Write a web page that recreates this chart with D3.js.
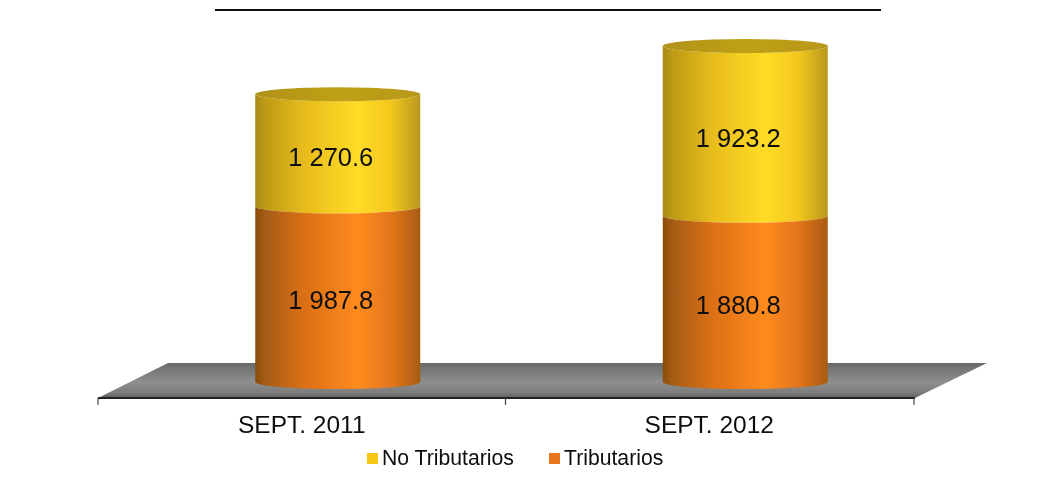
<!DOCTYPE html>
<html><head><meta charset="utf-8">
<script src="https://cdn.jsdelivr.net/npm/d3@7"></script>
<style>html,body{margin:0;padding:0;background:#fff}svg{display:block}text{font-family:"Liberation Sans",Arial,sans-serif;fill:#111}</style>
</head><body><div id="c"></div>
<script>
const categories = ["SEPT. 2011", "SEPT. 2012"];
const seriesNames = ["Tributarios", "No Tributarios"];
const tributarios = [1987.8, 1880.8];
const noTributarios = [1270.6, 1923.2];
const labels = [["1 987.8","1 880.8"],["1 270.6","1 923.2"]];

const W=1061,H=481;
const root=d3.select("#c").append("svg").attr("width",W).attr("height",H);
const defs=root.append("defs");
defs.append("filter").attr("id","soft").attr("x",0).attr("y",0).attr("width",W).attr("height",H).attr("filterUnits","userSpaceOnUse")
  .append("feGaussianBlur").attr("stdDeviation",0.45);
const svg=root.append("g").attr("filter","url(#soft)");
const x=d3.scaleBand().domain(categories).range([98,913]);
const y=d3.scaleLinear().domain([0,3804]).range([382,46]);
const depthX=36, cylW=165, ry=7;
function grad(id,stops){
  const g=defs.append("linearGradient").attr("id",id);
  stops.forEach(s=>g.append("stop").attr("offset",s[0]).attr("stop-color",s[1]));
}
grad("gO",[[0,"#8a4d10"],[.06,"#a55c12"],[.3,"#dc7016"],[.62,"#ff8a1e"],[.82,"#e4761a"],[1,"#a85c10"]]);
grad("gY",[[0,"#a88a14"],[.06,"#bd9a16"],[.3,"#e8bc1c"],[.62,"#ffdc26"],[.82,"#f4c81e"],[1,"#b8981a"]]);
grad("gT",[[0,"#b0921a"],[.5,"#c0a018"],[1,"#b8981a"]]);
const fg=defs.append("linearGradient").attr("id","gF").attr("x1",0).attr("x2",0).attr("y1",0).attr("y2",1);
[[0,"#696969"],[.55,"#8f8f8f"],[.85,"#7c7c7c"],[1,"#5e5e5e"]].forEach(s=>fg.append("stop").attr("offset",s[0]).attr("stop-color",s[1]));

// title rule
svg.append("line").attr("x1",215).attr("x2",881).attr("y1",10).attr("y2",10).attr("stroke","#111").attr("stroke-width",2);
// floor
const axisY=398;
svg.append("path").attr("fill","url(#gF)")
  .attr("d",`M${x.range()[0]},${axisY}L${x.range()[0]+70},363H${x.range()[1]+74}L${x.range()[1]+2},${axisY}Z`);
// axis
const axis=d3.axisBottom(x).tickSize(7).tickFormat(d=>d).tickPadding(10.5);
const ag=svg.append("g").attr("transform",`translate(0,${axisY})`).call(axis);
ag.selectAll(".tick line").remove();
ag.select(".domain").remove();
ag.append("line").attr("x1",x.range()[0]).attr("x2",x.range()[1]+2).attr("stroke","#222").attr("stroke-width",2);
const edges=[...categories.map(c=>x(c)),x.range()[1]+1];
ag.selectAll("line.tk").data(edges).join("line").attr("class","tk").attr("x1",d=>d).attr("x2",d=>d).attr("y1",0).attr("y2",7).attr("stroke","#444").attr("stroke-width",1.2);
ag.selectAll(".tick text").attr("font-size",24.5).attr("fill","#111").style("font-family",'"Liberation Sans",Arial,sans-serif');

// cylinders
categories.forEach((c,i)=>{
  const mid=x(c)+x.bandwidth()/2;
  const cx=mid+depthX, l=cx-cylW/2, r=cx+cylW/2, rx=cylW/2;
  const y0=y(0), y1=y(tributarios[i]), y2=y(tributarios[i]+noTributarios[i]);
  svg.append("path").attr("fill","url(#gY)")
    .attr("d",`M${l},${y1}V${y2}A${rx},${ry} 0 0 0 ${r},${y2}V${y1}A${rx},${ry} 0 0 1 ${l},${y1}Z`);
  svg.append("ellipse").attr("cx",cx).attr("cy",y2).attr("rx",rx).attr("ry",ry).attr("fill","url(#gT)");
  svg.append("path").attr("fill","url(#gO)")
    .attr("d",`M${l},${y0}V${y1}A${rx},${ry} 0 0 0 ${r},${y1}V${y0}A${rx},${ry} 0 0 1 ${l},${y0}Z`);
  svg.append("text").attr("x",mid+29).attr("y",(y0+y1)/2+15).attr("text-anchor","middle").attr("font-size",25.5).text(labels[0][i]);
  svg.append("text").attr("x",mid+29).attr("y",(y1+y2)/2+16).attr("text-anchor","middle").attr("font-size",25.5).text(labels[1][i]);
});

// legend
const legend=[{n:seriesNames[1],c:"#f9c816",x:367},{n:seriesNames[0],c:"#e8761a",x:549}];
legend.forEach(d=>{
  svg.append("rect").attr("x",d.x).attr("y",453).attr("width",11).attr("height",11).attr("fill",d.c);
  svg.append("text").attr("x",d.x+15).attr("y",465).attr("font-size",21.2).attr("fill","#222").text(d.n);
});
</script></body></html>
